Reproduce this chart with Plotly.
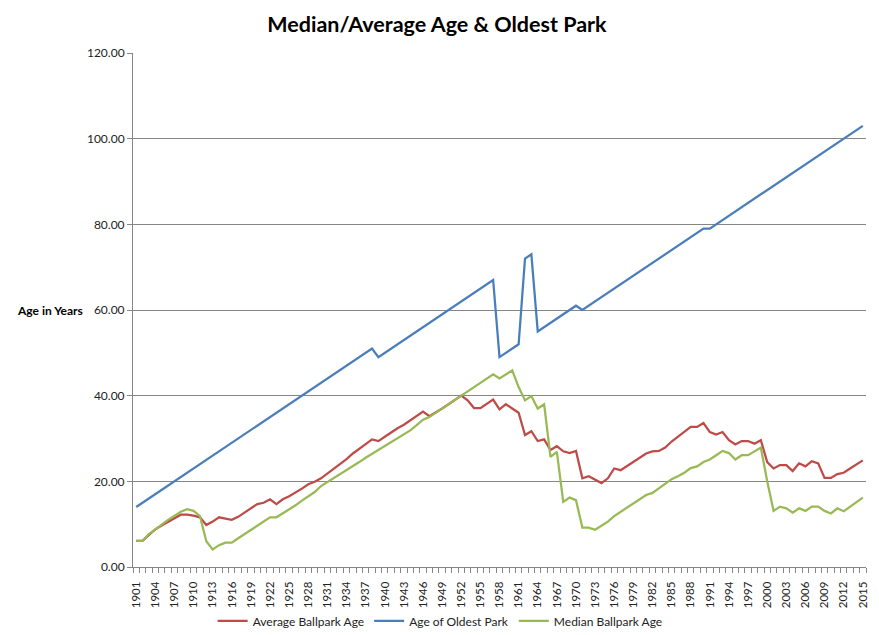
import plotly.graph_objects as go

years = list(range(1901, 2016))

avg_age = [
    6.1, 6.1, 7.5, 8.8, 9.7, 10.6, 11.5, 12.2, 12.2, 12.0,
    11.6, 9.8, 10.6, 11.6, 11.3, 11.0, 11.7, 12.7, 13.6, 14.7,
    15.0, 15.8, 14.7, 15.8, 16.5, 17.3, 18.3, 19.3, 19.9, 20.7,
    21.8, 23.0, 24.2, 25.2, 26.5, 27.5, 28.7, 29.8, 29.4, 30.4,
    31.5, 32.4, 33.2, 34.2, 35.3, 36.3, 35.2, 36.0, 37.0, 38.0,
    39.0, 40.0, 38.9, 37.1, 37.1, 38.0, 39.1, 36.8, 38.0, 37.0,
    36.0, 30.8, 31.7, 29.4, 29.8, 27.3, 28.2, 27.0, 26.6, 27.1,
    20.7, 21.2, 20.3, 19.6, 20.7, 23.0, 22.6, 23.5, 24.5, 25.5,
    26.5, 27.0, 27.1, 27.9, 29.3, 30.4, 31.7, 32.7, 32.7, 33.6,
    31.5, 30.9, 31.5, 29.6, 28.6, 29.4, 29.4, 28.8, 29.6, 24.5,
    23.0, 23.8, 23.8, 22.4, 24.2, 23.5, 24.7, 24.2, 20.8, 20.8,
    21.7, 22.0, 23.0, 23.9, 24.9,
]

oldest_age = [
    14, 15, 16, 17, 18, 19, 20, 21, 22, 23,
    24, 25, 26, 27, 28, 29, 30, 31, 32, 33,
    34, 35, 36, 37, 38, 39, 40, 41, 42, 43,
    44, 45, 46, 47, 48, 49, 50, 51, 49, 50,
    51, 52, 53, 54, 55, 56, 57, 58, 59, 60,
    61, 62, 63, 64, 65, 66, 67, 49, 50, 51,
    52, 72, 73, 55, 56, 57, 58, 59, 60, 61,
    60, 61, 62, 63, 64, 65, 66, 67, 68, 69,
    70, 71, 72, 73, 74, 75, 76, 77, 78, 79,
    79, 80, 81, 82, 83, 84, 85, 86, 87, 88,
    89, 90, 91, 92, 93, 94, 95, 96, 97, 98,
    99, 100, 101, 102, 103,
]

median_age = [
    6.1, 6.1, 7.7, 8.9, 9.9, 11.0, 12.0, 12.9, 13.5, 13.1,
    11.9, 6.0, 4.1, 5.1, 5.7, 5.7, 6.7, 7.7, 8.8, 9.6,
    10.6, 11.6, 11.6, 12.5, 13.3, 14.4, 15.5, 16.4, 17.5, 18.9,
    19.8, 20.7, 21.7, 22.6, 23.5, 24.5, 25.5, 26.4, 27.3, 28.2,
    29.1, 30.1, 31.0, 31.9, 33.1, 34.4, 35.0, 36.0, 37.0, 38.0,
    39.0, 40.0, 41.0, 42.0, 43.0, 44.0, 45.0, 44.0, 44.9, 45.9,
    42.0, 38.9, 39.9, 37.0, 38.0, 25.7, 26.9, 15.2, 16.2, 15.6,
    9.2, 9.2, 8.7, 9.6, 10.6, 11.9, 12.9, 13.8, 15.0, 16.0,
    16.8, 17.3, 18.3, 19.5, 20.5, 21.2, 22.0, 23.1, 23.5, 24.5,
    25.1, 26.1, 27.1, 26.6, 25.1, 26.1, 26.1, 27.0, 27.9, 20.0,
    13.1, 14.1, 13.7, 12.7, 13.7, 13.1, 14.1, 14.1, 13.1, 12.5,
    13.7, 13.0, 14.1, 15.1, 16.2,
]

tick_years = years[::3]
tick_labels = [str(y) for y in tick_years]
boundaries = [y - 0.5 for y in years] + [years[-1] + 0.5]
y_ticks = [0, 20, 40, 60, 80, 100, 120]

FONT = "Lato"
AXIS_GREY = "#868686"

fig = go.Figure()
fig.add_trace(go.Scatter(x=years, y=avg_age, mode="lines", name="Average Ballpark Age",
                         line=dict(color="#BE4B48", width=2.25)))
fig.add_trace(go.Scatter(x=years, y=oldest_age, mode="lines", name="Age of Oldest Park",
                         line=dict(color="#4A7EBB", width=2.25)))
fig.add_trace(go.Scatter(x=years, y=median_age, mode="lines", name="Median Ballpark Age",
                         line=dict(color="#98B954", width=2.25)))
# carrier trace for the label-only overlay axis (invisible)
fig.add_trace(go.Scatter(x=years, y=median_age, mode="lines", xaxis="x2", showlegend=False,
                         hoverinfo="skip", line=dict(color="rgba(0,0,0,0)", width=0)))

# page body has an 8px margin, so the figure is 8px smaller than the window
fig.update_layout(
    width=871, height=627,
    margin=dict(l=125, r=13, t=45, b=68, autoexpand=False),
    paper_bgcolor="white", plot_bgcolor="white",
    font=dict(family=FONT, size=12, color="#222222"),
    title=dict(text="<b>Median/Average Age &amp; Oldest Park</b>", x=0.4925, xanchor="center",
               y=0.9745, yanchor="middle", font=dict(family=FONT, size=21.5, color="black")),
    showlegend=True,
    legend=dict(orientation="h", x=0.419, xanchor="center", y=-0.105, yanchor="middle",
                font=dict(family=FONT, size=12, color="#222222"), itemwidth=30,
                bgcolor="rgba(0,0,0,0)"),
    xaxis=dict(
        range=[1900.5, 2015.5], tickmode="array", tickvals=boundaries,
        ticktext=["" for _ in boundaries],
        ticks="outside", ticklen=5, tickcolor=AXIS_GREY, showgrid=False, zeroline=False,
        showline=True, linecolor=AXIS_GREY, linewidth=1, automargin=False,
    ),
    xaxis2=dict(
        range=[1900.5, 2015.5], overlaying="x", side="bottom", anchor="y",
        tickmode="array", tickvals=tick_years, ticktext=tick_labels,
        tickangle=-90, ticks="outside", ticklen=9, tickcolor="rgba(0,0,0,0)",
        showgrid=False, zeroline=False, showline=False, automargin=False,
        tickfont=dict(family=FONT, size=11.5, color="#222222"),
    ),
    yaxis=dict(
        range=[0, 120], tickmode="array", tickvals=y_ticks,
        ticktext=["%.2f" % v for v in y_ticks],
        ticks="outside", ticklen=5, tickcolor=AXIS_GREY,
        showgrid=True, gridcolor=AXIS_GREY, gridwidth=1, zeroline=False,
        showline=True, linecolor=AXIS_GREY, linewidth=1, automargin=False,
        tickfont=dict(family=FONT, size=12, color="#222222"),
    ),
    annotations=[dict(text="<b>Age in Years</b>", xref="paper", yref="paper",
                      x=-0.161, y=0.5, xanchor="left", yanchor="middle", showarrow=False,
                      font=dict(family=FONT, size=12, color="black"))],
)

fig.write_html("out.html")
